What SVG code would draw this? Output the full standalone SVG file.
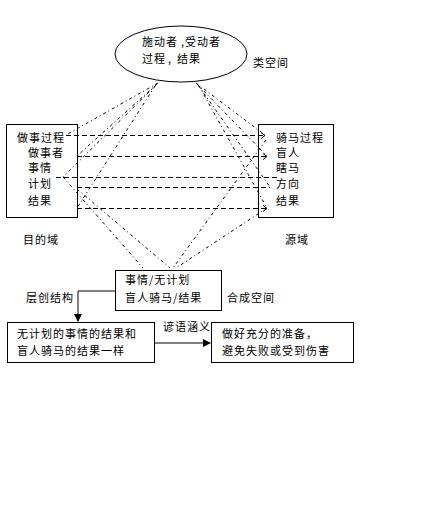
<svg xmlns="http://www.w3.org/2000/svg" width="443" height="511" viewBox="0 0 443 511">
<style>
text{font-family:"Noto Sans CJK SC","Liberation Sans",sans-serif;font-size:11px;letter-spacing:1px;fill:#000}
.box{fill:none;stroke:#000;stroke-width:1}
.dash{stroke:#000;stroke-width:1;stroke-dasharray:5 3;fill:none}
.dd{stroke:#000;stroke-width:1;stroke-dasharray:3 3 1 3;fill:none}
.solid{stroke:#000;stroke-width:1;fill:none}
</style>
<defs>
<marker id="open" markerWidth="6" markerHeight="8" refX="5" refY="4" orient="auto" markerUnits="userSpaceOnUse">
<path d="M1,1 L5,4 L1,7" fill="none" stroke="#000" stroke-width="1"/>
</marker>
<marker id="fill" markerWidth="8" markerHeight="8" refX="7" refY="4" orient="auto" markerUnits="userSpaceOnUse">
<path d="M0,0 L8,4 L0,8 Z" fill="#000"/>
</marker>
</defs>
<rect width="443" height="511" fill="#fff"/>

<g id="connectors">
<line class="dash" x1="66" y1="135.5" x2="265" y2="135.5" marker-end="url(#open)"/>
<line class="dash" x1="77" y1="156.5" x2="267" y2="156.5" marker-end="url(#open)"/>
<line class="dash" x1="56" y1="177.5" x2="278" y2="177.5"/>
<line class="dash" x1="77" y1="187.5" x2="270" y2="187.5"/>
<line class="dash" x1="77" y1="208.5" x2="267" y2="208.5" marker-end="url(#open)"/>
<line class="dd" x1="158" y1="83" x2="66" y2="135"/>
<line class="dd" x1="157" y1="84" x2="77" y2="156"/>
<line class="dd" x1="156" y1="85" x2="63" y2="177"/>
<line class="dd" x1="155" y1="86" x2="77" y2="208"/>
<line class="dd" x1="196" y1="83" x2="265" y2="135"/>
<line class="dd" x1="197" y1="84" x2="267" y2="156"/>
<line class="dd" x1="198" y1="85" x2="270" y2="187"/>
<line class="dd" x1="199" y1="86" x2="267" y2="208"/>
<line class="dd" x1="63" y1="177" x2="143" y2="268"/>
<line class="dd" x1="77" y1="189" x2="170" y2="268"/>
<line class="dd" x1="266" y1="140" x2="173" y2="268"/>
<line class="dd" x1="267" y1="208" x2="176" y2="268"/>
<path class="solid" d="M115,291 H78 V321" marker-end="url(#fill)"/>
<line class="solid" x1="155" y1="343" x2="210" y2="343" marker-end="url(#fill)"/>
</g>

<g id="generic">
<ellipse class="box" cx="181" cy="54" rx="66" ry="28"/>
<text x="142" y="46">施动者<tspan x="181">,</tspan><tspan x="185">受动者</tspan></text>
<text x="142" y="63">过程<tspan x="168">,</tspan><tspan x="177">结果</tspan></text>
<text x="253" y="67">类空间</text>
</g>

<g id="input1">
<rect class="box" x="6.5" y="124.5" width="71" height="93"/>
<text x="17" y="142">做事过程</text>
<text x="28" y="157">做事者</text>
<text x="28" y="172">事情</text>
<text x="28" y="188">计划</text>
<text x="28" y="205">结果</text>
<text x="23" y="244">目的域</text>
</g>

<g id="input2">
<rect class="box" x="258.5" y="124.5" width="75" height="93"/>
<text x="276" y="142">骑马过程</text>
<text x="276" y="157">盲人</text>
<text x="276" y="172">瞎马</text>
<text x="276" y="188">方向</text>
<text x="276" y="205">结果</text>
<text x="285" y="244">源域</text>
</g>

<g id="blend">
<rect class="box" x="115.5" y="270.5" width="106" height="40"/>
<text x="125" y="284">事情/无计划</text>
<text x="125" y="302">盲人骑马/结果</text>
<text x="227" y="302">合成空间</text>
<text x="26" y="302">层创结构</text>
</g>

<g id="emergent">
<rect class="box" x="7.5" y="322.5" width="147" height="40"/>
<text x="17" y="338">无计划的事情的结果和</text>
<text x="17" y="355">盲人骑马的结果一样</text>
</g>

<g id="meaning">
<rect class="box" x="211.5" y="322.5" width="142" height="40"/>
<text x="222" y="338">做好充分的准备，</text>
<text x="222" y="355">避免失败或受到伤害</text>
</g>

<text x="163" y="331">谚语涵义</text>
</svg>
